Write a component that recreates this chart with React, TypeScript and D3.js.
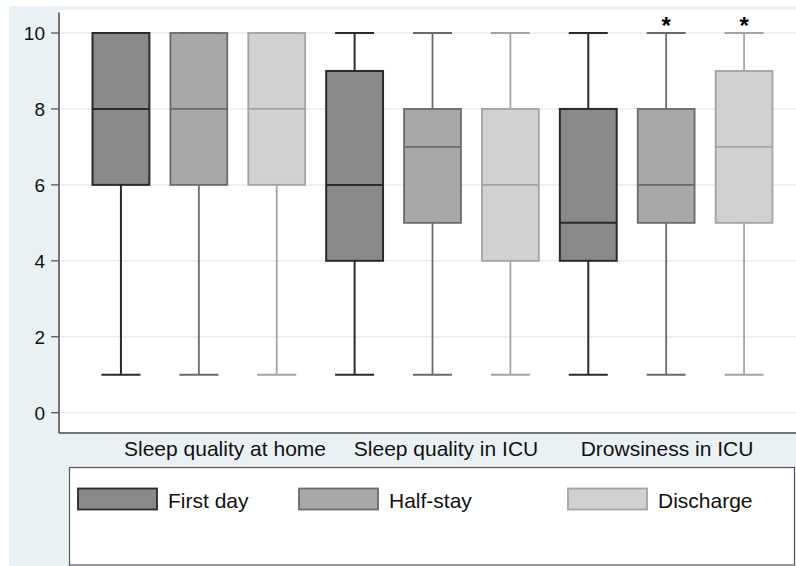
import React from "react";
import * as d3 from "d3";

// categories and series
const groups = ["Sleep quality at home", "Sleep quality in ICU", "Drowsiness in ICU"];
const series = ["First day", "Half-stay", "Discharge"];

// box stats, one entry per box (group x series, in order)
const whiskerLow = [1, 1, 1, 1, 1, 1, 1, 1, 1];
const q1 = [6, 6, 6, 4, 5, 4, 4, 5, 5];
const median = [8, 8, 8, 6, 7, 6, 5, 6, 7];
const q3 = [10, 10, 10, 9, 8, 8, 8, 8, 9];
const whiskerHigh = [10, 10, 10, 10, 10, 10, 10, 10, 10];
const significant = [false, false, false, false, false, false, false, true, true];

const yTicks = [0, 2, 4, 6, 8, 10];

const fills = ["#898989", "#a8a8a8", "#d1d1d1"];
const strokes = ["#2a2a2a", "#6a6a6a", "#a3a3a3"];

const W = 796;
const H = 566;
const FONT = "'Liberation Sans', Arial, Helvetica, sans-serif";

const App = () => {
  const plot = { left: 59, right: 796, top: 10, bottom: 433 };

  const boxes = d3.range(whiskerLow.length);
  const x = d3
    .scaleBand<number>()
    .domain(boxes)
    .range([82, 783])
    .paddingInner(0.27)
    .paddingOuter(0.135);
  const y = d3.scaleLinear().domain([0, 10]).range([412.7, 33]);

  // group captions sit slightly off the group centres in the original
  const labelX = d3.scalePoint<string>().domain(groups).range([225, 667]);

  const bw = x.bandwidth();
  const capW = 39;

  const legendX = [78, 299, 568];

  return (
    <svg
      width={W}
      height={H}
      style={{ position: "absolute", left: 0, top: 0, fontFamily: FONT }}
    >
      {/* background */}
      <rect x={9} y={6} width={W - 9} height={H - 6} fill="#eaf1f4" />
      <rect
        x={plot.left}
        y={plot.top}
        width={plot.right - plot.left}
        height={plot.bottom - plot.top}
        fill="#ffffff"
      />

      {/* gridlines */}
      {yTicks.map((t) => (
        <line
          key={"g" + t}
          x1={plot.left}
          x2={plot.right}
          y1={y(t)}
          y2={y(t)}
          stroke="#e4edf1"
          strokeWidth={1.5}
        />
      ))}

      {/* y axis */}
      <line x1={plot.left} x2={plot.left} y1={12.5} y2={plot.bottom} stroke="#4a4a4a" strokeWidth={1.5} />
      {yTicks.map((t) => (
        <g key={"t" + t}>
          <line x1={51} x2={plot.left} y1={y(t)} y2={y(t)} stroke="#4a4a4a" strokeWidth={1.2} />
          <text x={45} y={y(t)} dy="0.36em" textAnchor="end" fontSize={19} fill="#111">
            {t}
          </text>
        </g>
      ))}

      {/* boxes */}
      {boxes.map((i) => {
        const s = i % 3;
        const cx = x(i)! + bw / 2;
        const col = strokes[s];
        const sw = s === 0 ? 2 : 1.8;
        return (
          <g key={"b" + i}>
            <line x1={cx} x2={cx} y1={y(whiskerHigh[i])} y2={y(q3[i])} stroke={col} strokeWidth={sw} />
            <line x1={cx} x2={cx} y1={y(q1[i])} y2={y(whiskerLow[i])} stroke={col} strokeWidth={sw} />
            <line x1={cx - capW / 2} x2={cx + capW / 2} y1={y(whiskerHigh[i])} y2={y(whiskerHigh[i])} stroke={col} strokeWidth={sw} />
            <line x1={cx - capW / 2} x2={cx + capW / 2} y1={y(whiskerLow[i])} y2={y(whiskerLow[i])} stroke={col} strokeWidth={sw} />
            <rect
              x={x(i)!}
              y={y(q3[i])}
              width={bw}
              height={y(q1[i]) - y(q3[i])}
              fill={fills[s]}
              stroke={col}
              strokeWidth={sw}
            />
            <line x1={x(i)!} x2={x(i)! + bw} y1={y(median[i])} y2={y(median[i])} stroke={col} strokeWidth={sw} />
            {significant[i] && (
              <text x={cx} y={y(whiskerHigh[i]) + 1} textAnchor="middle" fontSize={24} fontWeight="bold" fill="#000">
                *
              </text>
            )}
          </g>
        );
      })}

      {/* x axis */}
      <line x1={plot.left} x2={plot.right} y1={plot.bottom} y2={plot.bottom} stroke="#4a4a4a" strokeWidth={1.5} />
      {groups.map((g) => (
        <text key={g} x={labelX(g)} y={455.5} textAnchor="middle" fontSize={21} fill="#111">
          {g}
        </text>
      ))}

      {/* legend */}
      <rect x={69.5} y={467.5} width={725} height={97.5} fill="#ffffff" stroke="#555" strokeWidth={1.2} />
      {series.map((name, s) => (
        <g key={name}>
          <rect
            x={legendX[s]}
            y={488.5}
            width={79}
            height={21}
            fill={fills[s]}
            stroke={strokes[s]}
            strokeWidth={1.8}
          />
          <text x={legendX[s] + 90} y={507.5} fontSize={21} fill="#111">
            {name}
          </text>
        </g>
      ))}
    </svg>
  );
};

export default App;
